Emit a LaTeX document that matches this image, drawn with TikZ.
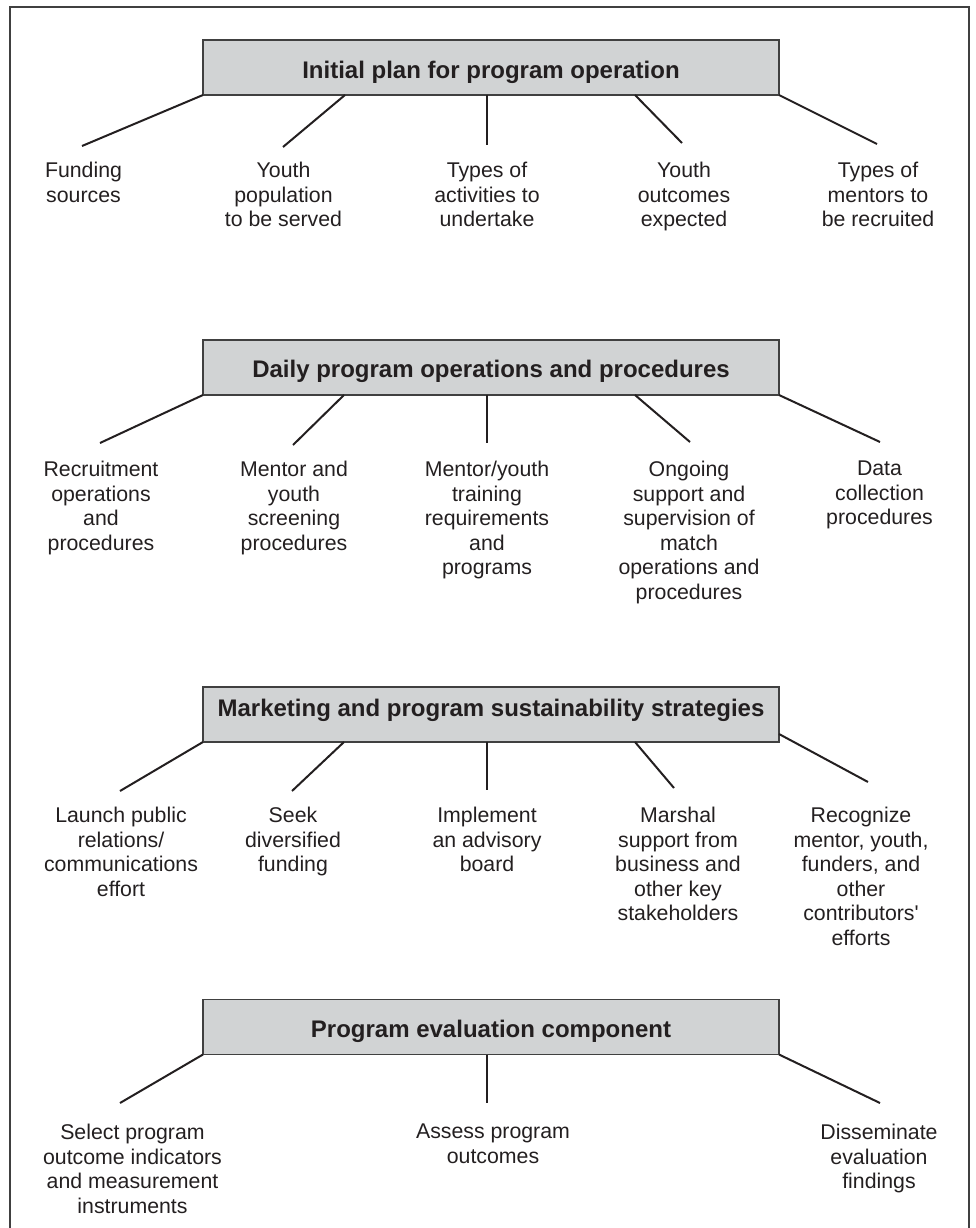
\documentclass[tikz,border=0pt]{standalone}
\usepackage{fontspec}
\setmainfont{Liberation Sans}
\usetikzlibrary{calc}
\definecolor{boxfill}{HTML}{D1D3D4}
\definecolor{boxline}{HTML}{404040}
\definecolor{ink}{HTML}{231F20}
\begin{document}
\begin{tikzpicture}[x=1pt,y=-1pt,
  header/.style={draw=boxline, fill=boxfill, line width=1.5pt, minimum width=576pt,
    minimum height=55pt, inner sep=0pt, outer sep=0pt, text=ink,
    font=\fontsize{24}{27}\selectfont\bfseries, text depth=0pt},
  item/.style={anchor=north, align=center, inner sep=0pt, text=ink,
    font=\fontsize{21.3}{24.5}\selectfont},
  conn/.style={draw=ink, line width=2pt},
  frame/.style={draw=boxline, line width=1.5pt}]
\useasboundingbox (0,0) rectangle (975,1228);
\draw[frame] (10,1240) -- (10,7) -- (969,7) -- (969,1240);

% ---------- Box 1 ----------
\node[header, text height=21.6pt] (b1) at (491,67.5) {Initial plan for program operation};
\coordinate (c11) at (82,146);
\coordinate (c12) at (283,147);
\coordinate (c13) at (487,145);
\coordinate (c14) at (682,143);
\coordinate (c15) at (877,144);
\draw[conn] (b1.south west) -- (c11);
\draw[conn] ([xshift=-146pt]b1.south) -- (c12);
\draw[conn] ([xshift=-4pt]b1.south) -- (c13);
\draw[conn] ([xshift=144pt]b1.south) -- (c14);
\draw[conn] (b1.south east) -- (c15);
\node[item] (t11) at (83.5,162) {Funding\\sources};
\node[item] (t12) at (283.5,162) {Youth\\population\\to be served};
\node[item] (t13) at (487,162) {Types of\\activities to\\undertake};
\node[item] (t14) at (684,162) {Youth\\outcomes\\expected};
\node[item] (t15) at (878,162) {Types of\\mentors to\\be recruited};

% ---------- Box 2 ----------
\node[header, text height=20pt] (b2) at (491,367.5) {Daily program operations and procedures};
\coordinate (c21) at (100,443);
\coordinate (c22) at (293,445);
\coordinate (c23) at (487,443);
\coordinate (c24) at (690,442);
\coordinate (c25) at (880,442);
\draw[conn] (b2.south west) -- (c21);
\draw[conn] ([xshift=-147pt]b2.south) -- (c22);
\draw[conn] ([xshift=-4pt]b2.south) -- (c23);
\draw[conn] ([xshift=144pt]b2.south) -- (c24);
\draw[conn] (b2.south east) -- (c25);
\node[item] (t21) at (101,461) {Recruitment\\operations\\and\\procedures};
\node[item] (t22) at (294,461) {Mentor and\\youth\\screening\\procedures};
\node[item] (t23) at (487,461) {Mentor/youth\\training\\requirements\\and\\programs};
\node[item] (t24) at (689,461) {Ongoing\\support and\\supervision of\\match\\operations and\\procedures};
\node[item] (t25) at (879.5,461) {Data\\collection\\procedures};

% ---------- Box 3 ----------
\node[header, text height=3.6pt] (b3) at (491,714.5) {Marketing and program sustainability strategies};
\coordinate (c31) at (120,791);
\coordinate (c32) at (292,791);
\coordinate (c33) at (487,790);
\coordinate (c34) at (674,788);
\coordinate (c35) at (868,782);
\draw[conn] (b3.south west) -- (c31);
\draw[conn] ([xshift=-147pt]b3.south) -- (c32);
\draw[conn] ([xshift=-4pt]b3.south) -- (c33);
\draw[conn] ([xshift=144pt]b3.south) -- (c34);
\draw[conn] ([yshift=8pt]b3.south east) -- (c35);
\node[item] (t31) at (121,807) {Launch public\\relations/\\communications\\effort};
\node[item] (t32) at (293,807) {Seek\\diversified\\funding};
\node[item] (t33) at (487,807) {Implement\\an advisory\\board};
\node[item] (t34) at (678,807) {Marshal\\support from\\business and\\other key\\stakeholders};
\node[item] (t35) at (861,807) {Recognize\\mentor, youth,\\funders, and\\other\\contributors\textquotesingle\\efforts};

% ---------- Box 4 ----------
\node[header, text height=20.6pt] (b4) at (491,1027) {Program evaluation component};
\coordinate (c41) at (120,1103);
\coordinate (c42) at (487,1103);
\coordinate (c43) at (880,1103);
\draw[conn] (b4.south west) -- (c41);
\draw[conn] ([xshift=-4pt]b4.south) -- (c42);
\draw[conn] (b4.south east) -- (c43);
\node[item] (t41) at (132.5,1124) {Select program\\outcome indicators\\and measurement\\instruments};
\node[item] (t42) at (493,1124) {Assess program\\outcomes};
\node[item] (t43) at (879,1124) {Disseminate\\evaluation\\findings};
\end{tikzpicture}
\end{document}
